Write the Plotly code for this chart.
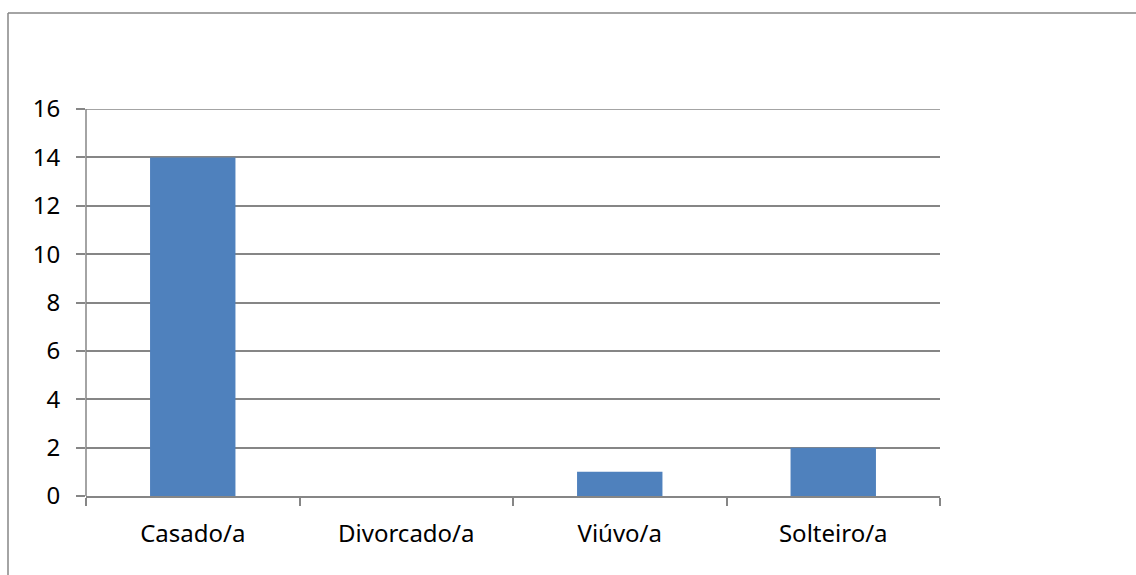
import plotly.graph_objects as go

categories = ["Casado/a", "Divorcado/a", "Viúvo/a", "Solteiro/a"]
values = [14, 0, 1, 2]
y_ticks = [0, 2, 4, 6, 8, 10, 12, 14, 16]

W, H = 1136, 575
L, R, T, B = 86, 196, 109, 79
pw, ph = W - L - R, H - T - B

def px_x(x):
    return (x - L) / pw

def px_y(y):
    return (H - B - y) / ph

GRAY = "#868686"
FONT = "Noto Sans, Open Sans, sans-serif"

fig = go.Figure(go.Bar(
    x=categories, y=values, width=0.4,
    marker=dict(color="#4F81BD", line=dict(width=0)),
    hoverinfo="x+y",
))

fig.update_layout(
    width=W, height=H,
    margin=dict(l=L, r=R, t=T, b=B, pad=0),
    paper_bgcolor="white", plot_bgcolor="white",
    showlegend=False,
    font=dict(family=FONT, size=24, color="black"),
    xaxis=dict(
        type="category", tickson="boundaries",
        ticks="outside", ticklen=8, tickcolor=GRAY, tickwidth=1.5,
        showline=True, linecolor=GRAY, linewidth=1.5,
        showgrid=False, zeroline=False,
        ticklabelstandoff=15,
    ),
    yaxis=dict(
        range=[0, y_ticks[-1]], tickvals=y_ticks,
        ticks="outside", ticklen=9, tickcolor=GRAY, tickwidth=1.5,
        showline=False,
        showgrid=True, gridcolor=GRAY, gridwidth=1.5,
        zeroline=False, ticklabelstandoff=11,
    ),
    shapes=[
        # top gridline
        dict(type="line", xref="paper", yref="y",
             x0=0, y0=y_ticks[-1], x1=1, y1=y_ticks[-1],
             line=dict(color=GRAY, width=1.5)),
        # y axis line
        dict(type="line", xref="paper", yref="y",
             x0=0, y0=0, x1=0, y1=y_ticks[-1],
             line=dict(color=GRAY, width=1.5)),
        # outer chart border (left and top)
        dict(type="line", xref="paper", yref="paper",
             x0=px_x(8), y0=px_y(H + 5), x1=px_x(8), y1=px_y(13),
             line=dict(color=GRAY, width=1.5)),
        dict(type="line", xref="paper", yref="paper",
             x0=px_x(8), y0=px_y(13), x1=px_x(W + 5), y1=px_y(13),
             line=dict(color=GRAY, width=1.5)),
    ],
)

fig.write_html(
    "out.html",
    config={"displayModeBar": False},
    post_script="document.body.style.margin='0';document.body.style.overflow='hidden';",
)
